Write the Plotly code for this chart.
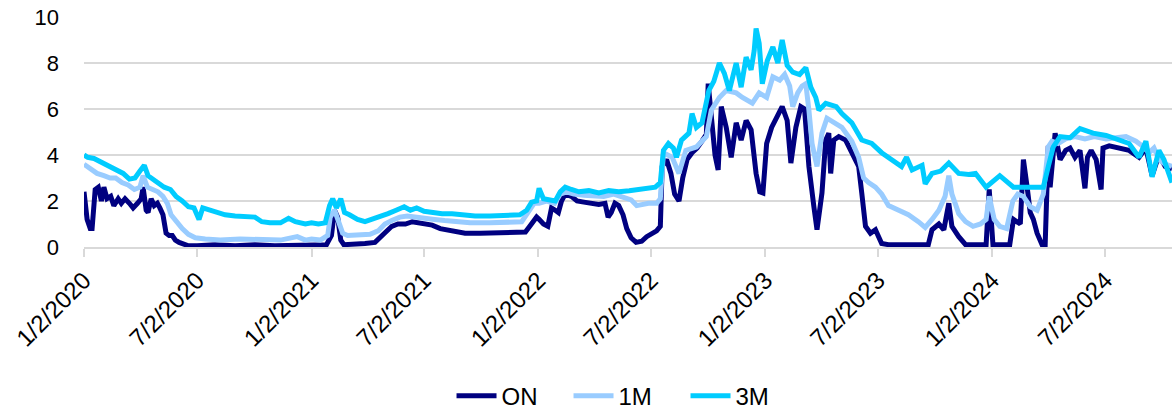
import plotly.graph_objects as go

# ---- data ----
on_dates = ["2020-01-02","2020-01-07","2020-01-12","2020-01-15","2020-01-20","2020-01-25","2020-01-30","2020-02-03","2020-02-08","2020-02-14","2020-02-19","2020-02-26","2020-03-02","2020-03-08","2020-03-15","2020-03-21","2020-03-28","2020-04-03","2020-04-06","2020-04-11","2020-04-14","2020-04-19","2020-04-24","2020-04-29","2020-05-03","2020-05-08","2020-05-13","2020-05-18","2020-05-23","2020-05-28","2020-06-03","2020-06-10","2020-06-18","2020-07-02","2020-07-31","2020-09-01","2020-10-03","2020-11-04","2020-12-07","2021-01-02","2021-01-26","2021-02-03","2021-02-08","2021-02-13","2021-02-18","2021-02-23","2021-03-12","2021-03-29","2021-04-14","2021-04-22","2021-05-02","2021-05-11","2021-05-21","2021-06-02","2021-06-13","2021-06-23","2021-07-02","2021-07-15","2021-07-28","2021-08-10","2021-08-23","2021-09-06","2021-09-30","2021-11-01","2021-11-25","2021-12-12","2021-12-19","2021-12-26","2021-12-30","2022-01-03","2022-01-10","2022-01-17","2022-01-23","2022-01-29","2022-02-03","2022-02-08","2022-02-14","2022-02-24","2022-03-05","2022-03-16","2022-03-28","2022-04-09","2022-04-19","2022-04-24","2022-04-29","2022-05-05","2022-05-11","2022-05-18","2022-05-24","2022-05-31","2022-06-08","2022-06-17","2022-06-25","2022-07-03","2022-07-11","2022-07-17","2022-07-20","2022-07-27","2022-08-03","2022-08-09","2022-08-16","2022-08-22","2022-08-29","2022-09-06","2022-09-14","2022-09-22","2022-09-29","2022-10-02","2022-10-07","2022-10-13","2022-10-18","2022-10-23","2022-10-31","2022-11-08","2022-11-16","2022-11-24","2022-12-02","2022-12-10","2022-12-18","2022-12-24","2022-12-29","2023-01-04","2023-01-12","2023-01-20","2023-01-29","2023-02-06","2023-02-12","2023-02-20","2023-02-28","2023-03-06","2023-03-13","2023-03-21","2023-03-26","2023-04-03","2023-04-09","2023-04-14","2023-04-17","2023-04-22","2023-04-30","2023-05-11","2023-05-21","2023-06-01","2023-06-06","2023-06-12","2023-06-20","2023-06-28","2023-07-08","2023-07-19","2023-08-20","2023-09-21","2023-09-27","2023-10-08","2023-10-16","2023-10-24","2023-10-29","2023-11-09","2023-11-20","2023-12-23","2023-12-28","2024-01-03","2024-01-30","2024-02-05","2024-02-16","2024-02-21","2024-02-27","2024-03-03","2024-03-08","2024-03-14","2024-03-22","2024-03-27","2024-04-01","2024-04-04","2024-04-12","2024-04-20","2024-04-29","2024-05-06","2024-05-14","2024-05-22","2024-05-30","2024-06-03","2024-06-09","2024-06-17","2024-06-25","2024-06-28","2024-07-08","2024-07-24","2024-08-09","2024-08-25","2024-09-05","2024-09-15","2024-09-26","2024-10-06","2024-10-17"]
on_values = [2.4,1.2,0.8,0.8,2.5,2.6,2.0,2.6,2.1,2.2,1.8,2.1,1.9,2.1,1.9,1.7,1.9,2.1,2.6,1.6,1.5,2.1,1.8,1.9,1.7,1.4,0.6,0.5,0.5,0.3,0.2,0.15,0.05,0.05,0.1,0.05,0.1,0.05,0.05,0.05,0.1,0.5,1.6,1.3,0.3,0.1,0.1,0.15,0.2,0.4,0.7,0.9,1.0,1.0,1.1,1.05,1.0,0.95,0.8,0.75,0.65,0.6,0.6,0.6,0.6,0.65,0.9,1.2,1.3,1.2,1.0,0.9,1.7,1.6,1.5,2.0,2.3,2.2,2.0,1.95,1.9,1.85,1.9,1.3,1.5,1.9,1.8,1.4,0.8,0.4,0.2,0.25,0.45,0.6,0.7,0.9,3.5,3.8,3.2,2.3,2.0,3.0,3.8,4.1,4.3,4.6,4.9,7.1,5.5,4.0,3.35,6.1,5.2,3.9,5.4,4.65,5.5,5.1,3.2,2.4,2.35,4.5,5.2,5.65,6.1,5.5,3.65,5.2,6.1,6.0,3.5,1.75,0.75,2.35,4.65,4.95,3.2,4.65,4.8,4.65,4.1,3.5,2.35,0.9,0.6,0.75,0.15,0.1,0.1,0.1,0.75,1.0,0.75,1.9,0.9,0.45,0.1,0.1,2.5,0.1,0.1,1.2,1.0,3.8,2.6,1.5,1.2,0.6,0.1,0.1,4.4,2.6,4.95,3.8,4.2,4.3,3.9,4.2,2.55,3.9,4.2,3.8,2.5,4.3,4.4,4.3,4.2,3.9,4.3,3.1,4.0,3.5,3.4]

m1_dates = ["2020-01-02","2020-01-12","2020-01-23","2020-02-03","2020-02-13","2020-02-22","2020-03-03","2020-03-13","2020-03-23","2020-04-01","2020-04-06","2020-04-13","2020-04-21","2020-04-30","2020-05-08","2020-05-15","2020-05-21","2020-05-29","2020-06-08","2020-06-18","2020-06-29","2020-07-15","2020-08-08","2020-09-09","2020-10-12","2020-11-13","2020-12-10","2020-12-23","2021-01-02","2021-01-16","2021-01-28","2021-02-01","2021-02-08","2021-02-14","2021-02-21","2021-03-01","2021-03-21","2021-04-06","2021-04-19","2021-04-30","2021-05-11","2021-05-24","2021-06-05","2021-06-16","2021-07-02","2021-07-19","2021-08-04","2021-08-21","2021-09-14","2021-10-16","2021-11-17","2021-12-06","2021-12-16","2021-12-26","2022-01-03","2022-01-15","2022-01-28","2022-02-06","2022-02-16","2022-02-28","2022-03-16","2022-04-01","2022-04-17","2022-05-03","2022-05-19","2022-05-31","2022-06-09","2022-06-19","2022-06-28","2022-07-11","2022-07-17","2022-07-22","2022-08-05","2022-08-16","2022-08-27","2022-09-13","2022-09-22","2022-09-29","2022-10-07","2022-10-20","2022-10-31","2022-11-16","2022-11-26","2022-12-12","2022-12-23","2023-01-04","2023-01-14","2023-01-25","2023-02-02","2023-02-10","2023-02-15","2023-02-23","2023-03-02","2023-03-08","2023-03-13","2023-03-18","2023-03-26","2023-04-03","2023-04-11","2023-04-22","2023-05-05","2023-05-21","2023-06-01","2023-06-09","2023-06-17","2023-06-28","2023-07-08","2023-07-19","2023-08-04","2023-08-20","2023-09-05","2023-09-16","2023-09-27","2023-10-08","2023-10-18","2023-10-24","2023-10-29","2023-11-09","2023-11-20","2023-12-02","2023-12-14","2023-12-23","2023-12-28","2024-01-05","2024-01-14","2024-01-25","2024-02-04","2024-02-12","2024-02-21","2024-03-03","2024-03-14","2024-03-24","2024-04-01","2024-04-07","2024-04-17","2024-04-29","2024-05-14","2024-05-30","2024-06-14","2024-07-03","2024-07-19","2024-08-04","2024-08-20","2024-08-30","2024-09-10","2024-09-18","2024-09-26","2024-10-06","2024-10-17"]
m1_values = [3.6,3.4,3.2,3.1,3.0,3.0,2.8,2.7,2.5,2.6,3.1,2.6,2.5,2.4,2.2,1.9,1.4,1.1,0.8,0.55,0.4,0.35,0.3,0.35,0.3,0.3,0.45,0.3,0.35,0.3,0.5,1.3,1.6,1.2,0.6,0.5,0.5,0.55,0.7,1.0,1.15,1.3,1.35,1.3,1.25,1.2,1.15,1.1,1.05,1.05,1.05,1.1,1.5,1.9,1.9,2.0,1.9,2.3,2.4,2.3,2.25,2.25,2.2,2.3,2.15,2.05,1.8,1.85,1.9,1.9,2.1,4.1,3.9,3.2,4.2,4.35,4.6,4.8,5.95,6.5,6.8,6.7,6.5,6.25,6.7,6.5,7.4,7.25,7.5,7.0,6.1,6.7,7.0,7.1,5.95,4.5,3.5,4.95,5.6,5.4,5.2,4.6,3.9,3.0,2.8,2.6,2.3,1.8,1.6,1.4,1.1,0.85,1.2,1.6,2.2,3.1,2.3,1.45,1.1,0.9,1.0,1.2,2.2,1.2,0.9,0.8,2.0,2.3,2.2,1.75,1.6,2.3,4.35,4.6,4.5,4.7,4.8,4.7,4.8,4.7,4.75,4.8,4.6,4.4,4.1,4.3,3.8,3.6,3.5]

m3_dates = ["2020-01-02","2020-01-08","2020-01-18","2020-01-28","2020-02-06","2020-02-16","2020-02-26","2020-03-05","2020-03-15","2020-03-24","2020-04-01","2020-04-08","2020-04-14","2020-04-22","2020-04-30","2020-05-10","2020-05-20","2020-05-29","2020-06-08","2020-06-18","2020-06-27","2020-07-05","2020-07-11","2020-07-23","2020-08-03","2020-08-16","2020-09-01","2020-09-17","2020-10-03","2020-10-14","2020-10-27","2020-11-13","2020-11-26","2020-12-07","2020-12-23","2021-01-02","2021-01-13","2021-01-24","2021-01-31","2021-02-05","2021-02-11","2021-02-18","2021-02-24","2021-03-04","2021-03-17","2021-03-29","2021-04-09","2021-04-22","2021-05-05","2021-05-18","2021-05-31","2021-06-10","2021-06-20","2021-07-02","2021-07-15","2021-07-31","2021-08-16","2021-09-01","2021-09-22","2021-10-16","2021-11-09","2021-12-03","2021-12-14","2021-12-22","2021-12-30","2022-01-03","2022-01-10","2022-01-20","2022-01-29","2022-02-06","2022-02-14","2022-02-24","2022-03-08","2022-03-24","2022-04-09","2022-04-25","2022-05-11","2022-05-28","2022-06-13","2022-06-29","2022-07-09","2022-07-17","2022-07-22","2022-07-30","2022-08-07","2022-08-12","2022-08-20","2022-09-01","2022-09-06","2022-09-13","2022-09-22","2022-10-03","2022-10-11","2022-10-20","2022-10-28","2022-11-05","2022-11-16","2022-11-24","2022-12-02","2022-12-10","2022-12-15","2022-12-18","2022-12-23","2022-12-28","2023-01-05","2023-01-14","2023-01-22","2023-01-29","2023-02-06","2023-02-15","2023-02-26","2023-03-08","2023-03-16","2023-03-24","2023-03-29","2023-04-09","2023-04-26","2023-05-05","2023-05-21","2023-06-06","2023-06-22","2023-07-08","2023-07-24","2023-08-09","2023-08-17","2023-08-26","2023-09-11","2023-09-16","2023-09-27","2023-10-11","2023-10-24","2023-11-09","2023-11-25","2023-12-06","2023-12-23","2024-01-14","2024-02-05","2024-02-27","2024-03-24","2024-04-01","2024-04-09","2024-04-20","2024-05-06","2024-05-22","2024-06-12","2024-07-03","2024-07-24","2024-08-09","2024-08-25","2024-09-05","2024-09-15","2024-09-26","2024-10-04","2024-10-17"]
m3_values = [4.0,3.9,3.85,3.7,3.6,3.45,3.3,3.2,2.95,3.0,3.3,3.55,3.1,2.95,2.8,2.6,2.5,2.2,2.0,1.75,1.7,1.2,1.7,1.6,1.55,1.4,1.35,1.3,1.3,1.1,1.05,1.05,1.25,1.1,1.0,1.05,1.0,1.05,1.8,2.1,1.7,2.1,1.5,1.4,1.2,1.1,1.2,1.3,1.45,1.6,1.75,1.6,1.7,1.55,1.5,1.45,1.45,1.4,1.35,1.35,1.35,1.4,1.6,1.95,2.0,2.55,2.1,2.05,2.0,2.4,2.6,2.5,2.4,2.45,2.35,2.45,2.4,2.45,2.5,2.55,2.6,2.8,4.2,4.5,4.3,3.9,4.65,4.95,5.8,5.2,5.4,6.8,7.2,8.0,7.55,6.8,8.0,6.95,8.25,7.7,8.55,9.5,8.85,7.1,8.1,8.7,8.0,9.0,7.9,7.6,7.5,7.8,6.95,6.5,5.95,6.25,6.1,5.8,5.4,4.65,4.5,4.1,3.8,3.5,3.9,3.35,3.55,2.75,3.2,3.3,3.65,3.2,3.15,3.2,2.6,3.1,2.6,2.6,2.6,3.5,4.35,4.8,4.75,5.15,4.95,4.85,4.65,4.5,3.9,4.6,3.05,4.2,3.8,2.8]

series_names = ["ON", "1M", "3M"]
series_colors = ["#000080", "#99CCFF", "#00CCFF"]

tick_dates = ["2020-01-02","2020-07-02","2021-01-02","2021-07-02","2022-01-02","2022-07-02","2023-01-02","2023-07-02","2024-01-02","2024-07-02"]
tick_labels = ["1/2/2020","7/2/2020","1/2/2021","7/2/2021","1/2/2022","7/2/2022","1/2/2023","7/2/2023","1/2/2024","7/2/2024"]
y_ticks = [0, 2, 4, 6, 8, 10]

FONT = "Arial, 'Liberation Sans', sans-serif"

fig = go.Figure()
for name, color, xs, ys in zip(series_names, series_colors,
                               [on_dates, m1_dates, m3_dates],
                               [on_values, m1_values, m3_values]):
    fig.add_trace(go.Scatter(x=xs, y=ys, name=name, mode="lines",
                             line=dict(color=color, width=5)))

fig.update_layout(
    width=1172, height=411,
    margin=dict(l=84, r=0, t=17, b=164, autoexpand=False),
    paper_bgcolor="white", plot_bgcolor="white",
    font=dict(family=FONT, color="black"),
    showlegend=True,
    legend=dict(orientation="h", xref="container", yref="container",
                x=0.535, xanchor="center", y=0.036, yanchor="middle",
                font=dict(size=24, family=FONT), entrywidth=62,
                itemwidth=40, tracegroupgap=0),
)
fig.update_xaxes(
    type="date", range=["2020-01-02", "2024-10-17"], automargin=False,
    tickvals=tick_dates, ticktext=tick_labels, tickangle=-45,
    tickfont=dict(size=24, family=FONT),
    ticks="outside", ticklen=8, tickcolor="#D9D9D9", tickwidth=1.5,
    showline=True, linecolor="#D9D9D9", linewidth=1.5,
    showgrid=False, zeroline=False,
)
fig.update_yaxes(
    range=[0, 10], tickvals=y_ticks, automargin=False,
    tickfont=dict(size=22, family=FONT),
    showgrid=True, gridcolor="#D9D9D9", gridwidth=1.5,
    zeroline=False, showline=False, ticks="", ticklabelstandoff=24,
)

fig.write_html(
    "out.html",
    config={"displayModeBar": False},
    post_script="document.body.style.margin='0';document.body.style.overflow='hidden';",
)
